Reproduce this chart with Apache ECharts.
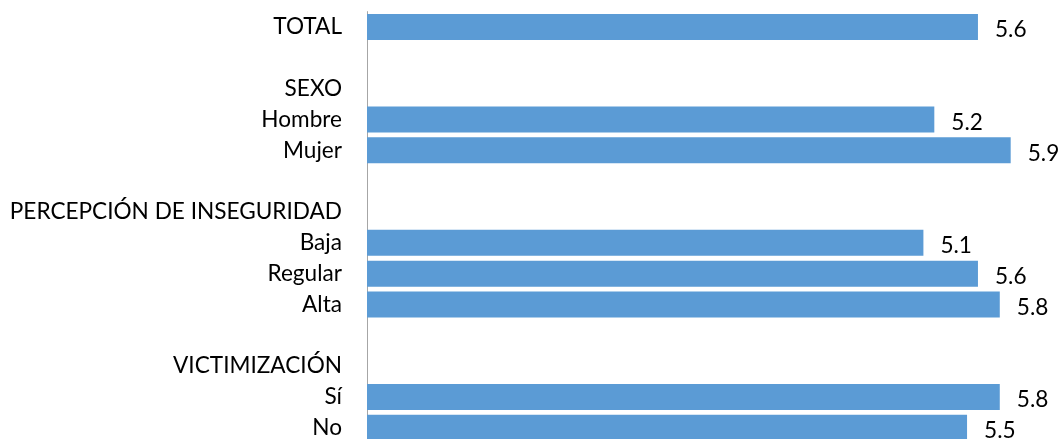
<!DOCTYPE html>
<html>
<head>
<meta charset="utf-8">
<script src="https://cdn.jsdelivr.net/npm/echarts@6/dist/echarts.min.js"></script>
<style>
  html, body { margin: 0; padding: 0; background: #fff; }
  #main { width: 1063px; height: 439px; }
</style>
</head>
<body>
<div id="main"></div>
<script>
// rows top to bottom, blank rows separate the groups
var categories = ['TOTAL', ' ', 'SEXO', 'Hombre', 'Mujer', '  ',
    'PERCEPCIÓN DE INSEGURIDAD', 'Baja', 'Regular', 'Alta', '   ',
    'VICTIMIZACIÓN', 'Sí', 'No'];
var values = [5.6, null, null, 5.2, 5.9, null,
    null, 5.1, 5.6, 5.8, null,
    null, 5.8, 5.5];
var xMin = 0;
var xMax = 6;

var font = 'Lato';
var chart = echarts.init(document.getElementById('main'));

chart.setOption({
    animation: false,
    grid: {
        left: 367, right: 41.4, top: 11.6, height: 431.6,
        outerBoundsMode: 'none'  // chart is cut at the bottom, don't shrink it
    },
    xAxis: {
        type: 'value',
        min: xMin,
        max: xMax,
        show: false
    },
    yAxis: {
        type: 'category',
        inverse: true,
        data: categories,
        axisLine: { lineStyle: { color: '#a6a6a6', width: 1 } },
        axisTick: { show: false },
        axisLabel: {
            margin: 25,
            color: '#000',
            fontFamily: font,
            fontSize: 22.6
        }
    },
    series: [{
        type: 'bar',
        data: values,
        barWidth: 26,
        itemStyle: { color: '#5b9bd5' },
        label: {
            show: true,
            position: 'right',
            distance: 17,
            offset: [0, 3],
            color: '#000',
            fontFamily: font,
            fontSize: 22.6,
            formatter: function (p) { return p.value.toFixed(1); }
        }
    }]
});
</script>
</body>
</html>
